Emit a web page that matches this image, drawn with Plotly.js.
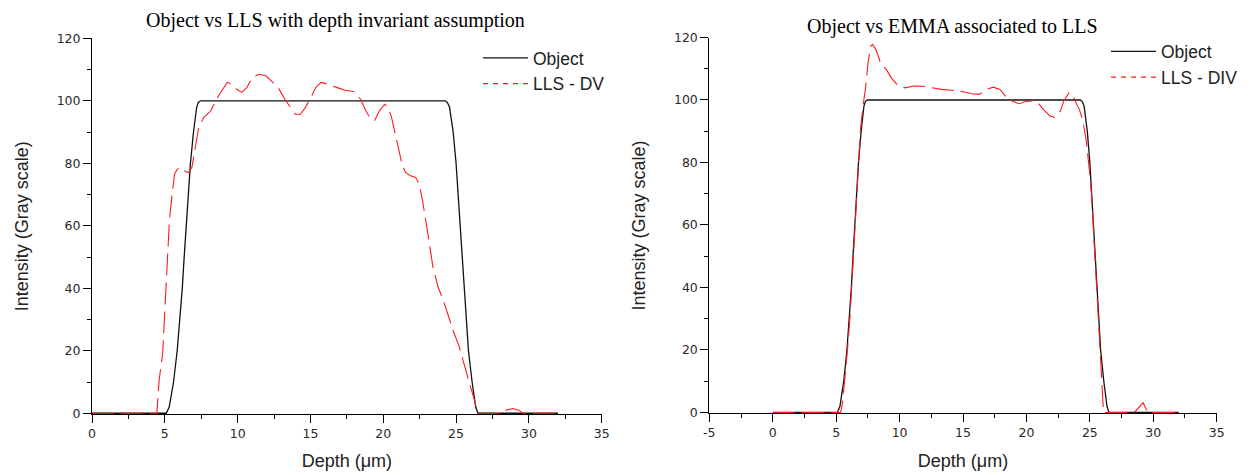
<!DOCTYPE html>
<html><head><meta charset="utf-8">
<script src="https://cdn.plot.ly/plotly-3.0.1.min.js"></script>
<style>html,body{margin:0;padding:0;background:#fff}#chart{width:1257px;height:475px}</style>
</head><body><div id="chart"></div>
<script>
// ---- data ----
const objectX = [0, 5.1, 5.3, 5.6, 5.85, 6.05, 6.2, 6.33, 6.47, 6.63, 6.76, 6.97, 7.19, 7.3, 7.45, 24.25, 24.4, 24.55, 24.8, 25.0, 25.14, 25.26, 25.4, 25.53, 25.66, 25.85, 26.1, 26.35, 26.5, 32];
const objectY = [0, 0, 2, 10, 20, 30, 40, 50, 60, 70, 80, 90, 98, 99.5, 100, 100, 99.5, 98, 90, 80, 70, 60, 50, 40, 30, 20, 10, 2, 0, 0];

const dvX = [0, 4.45, 4.61, 4.85, 4.97, 5.08, 5.2, 5.32, 5.5, 5.67, 5.84, 6.05, 6.27, 6.62, 6.86, 7.09, 7.33, 7.68, 8.16, 8.5, 8.87, 9.29, 9.58, 9.93, 10.29, 10.64, 11.0, 11.47, 11.94, 12.41, 12.77, 13.24, 13.6, 13.95, 14.3, 14.66, 15.02, 15.37, 15.73, 16.2, 16.79, 17.38, 17.97, 18.44, 18.8, 19.15, 19.39, 19.74, 20.1, 20.34, 20.57, 20.81, 21.05, 21.28, 21.52, 21.87, 22.23, 22.46, 22.7, 22.94, 23.17, 23.41, 23.76, 24.12, 24.47, 24.83, 25.18, 25.54, 25.89, 26.25, 26.48, 28.2, 28.5, 28.9, 29.3, 29.6, 31.9];
const dvY = [0, 0, 10.6, 19, 30, 40, 51, 62, 70, 76.6, 78, 78.7, 77.7, 77, 78.7, 85, 91.5, 94.7, 96.8, 100, 103, 105.9, 105.3, 103.7, 102.7, 104.3, 107.4, 108.5, 108, 105.9, 104.3, 100.5, 97.9, 95.7, 95.7, 97.9, 101, 104.3, 105.9, 105.3, 104.3, 103.4, 103, 100.5, 96.8, 94.1, 93.6, 96.8, 98.9, 97.9, 94.7, 89.4, 84, 79.8, 77.1, 76, 75.5, 73.4, 68, 61.7, 54.3, 46.8, 40.4, 36.2, 30.9, 26, 21.8, 16, 10.6, 4.3, 0, 0, 1.1, 1.5, 1.0, 0, 0];

const divX = [0, 5.35, 5.5, 5.68, 5.9, 6.09, 6.23, 6.36, 6.5, 6.63, 6.77, 6.91, 7.1, 7.32, 7.53, 7.72, 7.86, 8.13, 8.54, 8.95, 9.35, 9.9, 10.44, 11.12, 11.8, 12.48, 13.3, 14.11, 14.93, 15.74, 16.29, 16.83, 17.38, 17.92, 18.33, 18.87, 19.42, 19.96, 20.5, 20.91, 21.32, 21.86, 22.27, 22.68, 22.95, 23.36, 23.63, 23.9, 24.17, 24.45, 24.72, 24.94, 25.13, 25.26, 25.4, 25.53, 25.67, 25.81, 25.94, 26.08, 28.5, 28.9, 29.2, 29.56, 32];
const divY = [0, 0, 3, 10.3, 20.4, 30.5, 40.1, 50.2, 60.3, 69.9, 80.5, 90.1, 97.6, 103.9, 112.4, 117.2, 117.8, 116.2, 111.4, 109.8, 107.1, 104.5, 103.9, 104.5, 104.4, 103.9, 103.4, 103.1, 102.7, 102, 101.8, 103.4, 104.1, 103.4, 101.3, 99.7, 98.8, 99.5, 99.7, 99.1, 97, 94.9, 94.4, 96.5, 99.7, 102.3, 101.8, 99.1, 97, 93.3, 86.9, 78.4, 69.9, 60.3, 50.2, 40.1, 30.5, 20.4, 10.3, 0, 0, 1.8, 3.1, 0, 0];

const titles = ['Object vs LLS with depth invariant assumption', 'Object vs EMMA associated to LLS'];
const seriesNames = [['Object', 'LLS - DV'], ['Object', 'LLS - DIV']];
const xTitle = 'Depth (μm)';
const yTitle = 'Intensity (Gray scale)';
const rightTickVals = [-5, 0, 5, 10, 15, 20, 25, 30, 35];
const rightTickText = ['-5', '0', '5', '10', '15', '20', '25', '30', '35'];

// ---- layout helpers (pixel -> paper) ----
const W = 1257, H = 475;
const px = v => v / W;
const py = v => (H - v) / H;

const RED = '#ff1a1a', BLACK = '#111';
const tickFont = {family: 'DejaVu Sans', size: 12.5, color: '#2a2a2a'};
const axTitleFont = {family: 'Liberation Sans, Arial', size: 18, color: '#222'};

function xAxis(range, dom, anchor, vals, text) {
  const a = {
    domain: dom, range: range, anchor: anchor, autorange: false,
    showline: true, linecolor: '#000', linewidth: 1, mirror: false,
    ticks: 'outside', ticklen: 8, tickwidth: 1, tickcolor: '#000',
    tick0: 0, dtick: 5,
    minor: {tick0: 0, dtick: 2.5, ticks: 'outside', ticklen: 4, tickwidth: 1, tickcolor: '#000', showgrid: false},
    showgrid: false, zeroline: false, tickfont: tickFont,
    title: {text: xTitle, font: axTitleFont, standoff: 14},
    automargin: false, layer: 'below traces', fixedrange: true
  };
  if (vals) { a.tickmode = 'array'; a.tickvals = vals; a.ticktext = text; }
  return a;
}
function yAxis(dom, anchor) {
  return {
    domain: dom, range: [-0.3, 120], anchor: anchor, autorange: false,
    showline: true, linecolor: '#000', linewidth: 1,
    ticks: 'outside', ticklen: 8, tickwidth: 1, tickcolor: '#000',
    tick0: 0, dtick: 20,
    minor: {dtick: 10, ticks: 'outside', ticklen: 4, tickwidth: 1, tickcolor: '#000', showgrid: false},
    showgrid: false, zeroline: false, tickfont: tickFont,
    title: {text: yTitle, font: axTitleFont, standoff: 23},
    automargin: false, layer: 'below traces', fixedrange: true
  };
}

const plotDash = '22px,7px';
const legendDash = '5px,5px';

const traces = [
  {x: objectX, y: objectY, xaxis: 'x', yaxis: 'y', type: 'scatter', mode: 'lines', name: seriesNames[0][0],
   line: {color: BLACK, width: 1.3}, showlegend: false, hoverinfo: 'skip'},
  {x: dvX, y: dvY, xaxis: 'x', yaxis: 'y', type: 'scatter', mode: 'lines', name: seriesNames[0][1],
   line: {color: RED, width: 1.1, dash: plotDash}, showlegend: false, hoverinfo: 'skip'},
  {x: objectX, y: objectY, xaxis: 'x2', yaxis: 'y2', type: 'scatter', mode: 'lines', name: seriesNames[1][0],
   line: {color: BLACK, width: 1.3}, showlegend: false, hoverinfo: 'skip'},
  {x: divX, y: divY, xaxis: 'x2', yaxis: 'y2', type: 'scatter', mode: 'lines', name: seriesNames[1][1],
   line: {color: RED, width: 1.1, dash: plotDash}, showlegend: false, hoverinfo: 'skip'},
  // legend entries (same series, legend styling)
  {x: [null], y: [null], xaxis: 'x', yaxis: 'y', type: 'scatter', mode: 'lines', name: seriesNames[0][0],
   line: {color: BLACK, width: 1.3}, legend: 'legend'},
  {x: [null], y: [null], xaxis: 'x', yaxis: 'y', type: 'scatter', mode: 'lines', name: seriesNames[0][1],
   line: {color: RED, width: 1.1, dash: legendDash}, legend: 'legend'},
  {x: [null], y: [null], xaxis: 'x2', yaxis: 'y2', type: 'scatter', mode: 'lines', name: seriesNames[1][0],
   line: {color: BLACK, width: 1.3}, legend: 'legend2'},
  {x: [null], y: [null], xaxis: 'x2', yaxis: 'y2', type: 'scatter', mode: 'lines', name: seriesNames[1][1],
   line: {color: RED, width: 1.1, dash: legendDash}, legend: 'legend2'}
];

const legendFont = {family: 'Liberation Sans, Arial', size: 17.5, color: '#222'};
const layout = {
  width: W, height: H,
  margin: {l: 0, r: 0, t: 0, b: 0, pad: 0},
  paper_bgcolor: '#fff', plot_bgcolor: '#fff',
  showlegend: true,
  xaxis: xAxis([0, 35], [px(92), px(601.7)], 'y'),
  yaxis: yAxis([py(414.2), py(38.3)], 'x'),
  xaxis2: xAxis([-5, 35], [px(709.3), px(1216.7)], 'y2', rightTickVals, rightTickText),
  yaxis2: yAxis([py(413.4), py(37.5)], 'x2'),
  legend: {x: px(478), y: py(40), xanchor: 'left', yanchor: 'top', bgcolor: 'rgba(0,0,0,0)',
           borderwidth: 0, font: legendFont, itemwidth: 45, tracegroupgap: 0},
  legend2: {x: px(1106), y: py(33.5), xanchor: 'left', yanchor: 'top', bgcolor: 'rgba(0,0,0,0)',
           borderwidth: 0, font: legendFont, itemwidth: 45, tracegroupgap: 0},
  annotations: [
    {text: titles[0], xref: 'paper', yref: 'paper', x: px(335), y: py(20), xanchor: 'center', yanchor: 'middle',
     showarrow: false, font: {family: 'Liberation Serif, Times New Roman', size: 20, color: '#000'}},
    {text: titles[1], xref: 'paper', yref: 'paper', x: px(952), y: py(26), xanchor: 'center', yanchor: 'middle',
     showarrow: false, font: {family: 'Liberation Serif, Times New Roman', size: 20, color: '#000'}}
  ]
};

Plotly.newPlot('chart', traces, layout, {displayModeBar: false, staticPlot: true});
</script>
</body></html>
